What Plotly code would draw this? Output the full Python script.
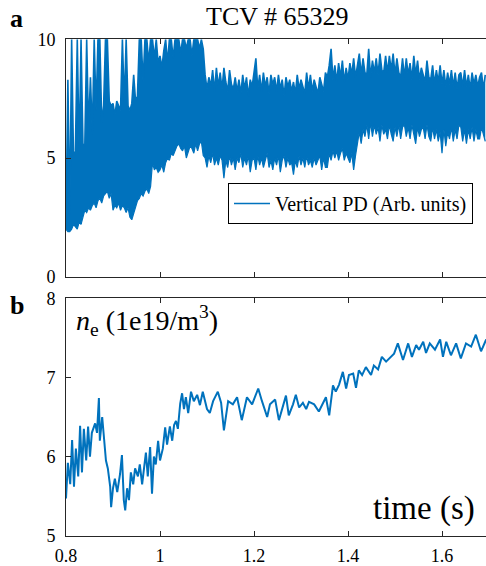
import plotly.graph_objects as go

# ---- Panel a: vertical photodiode signal (arb. units) ----
# Fast fluctuations drawn as their lower / upper excursion per 4 ms sample.
pd_t0 = 0.800
pd_dt = 0.004
pd_lower = [
    2.0, 1.9, 1.9, 2.0, 2.2, 2.1, 2.0, 2.3, 2.2, 2.5,
    2.8, 2.7, 2.9, 2.8, 3.0, 3.1, 2.9, 3.2, 3.3, 3.1,
    3.4, 3.5, 3.6, 3.3, 3.5, 2.8, 3.0, 2.9, 3.1, 2.8,
    3.0, 2.9, 2.7, 2.9, 2.5, 2.4, 2.7, 3.0, 3.2, 3.3,
    3.5, 3.4, 3.6, 3.7, 3.5, 3.8, 4.8, 4.5, 4.6, 4.4,
    4.5, 4.7, 4.4, 4.8, 5.0, 4.9, 5.2, 5.1, 5.3, 5.5,
    5.6, 5.4, 5.3, 5.5, 5.0, 5.3, 5.5, 5.4, 5.2, 5.6,
    5.3, 5.6, 5.7, 5.1, 5.0, 4.6, 5.1, 4.8, 5.2, 4.7,
    5.0, 4.7, 5.1, 4.9, 4.15, 4.9, 4.6, 5.1, 4.7, 5.0,
    4.5, 5.0, 4.8, 5.2, 4.6, 5.0, 4.7, 5.1, 4.4, 4.9,
    5.0, 4.5, 5.1, 4.7, 5.0, 4.6, 4.9, 5.2, 4.6, 4.9,
    4.5, 5.0, 4.7, 5.1, 4.4, 4.9, 5.1, 4.6, 5.0, 4.7,
    4.8, 4.3, 4.9, 4.6, 5.1, 4.7, 5.0, 4.6, 5.1, 4.7,
    4.9, 4.6, 5.0, 4.7, 4.9, 5.1, 4.5, 5.0, 4.6, 4.6,
    5.2, 4.9, 5.3, 5.0, 5.3, 4.9, 5.2, 5.4, 4.9, 5.2,
    5.0, 4.8, 5.2, 4.5, 5.1, 5.6, 6.1, 5.6, 6.2, 5.9,
    6.4, 5.8, 6.5, 5.9, 6.4, 6.0, 6.3, 5.7, 6.4, 6.0,
    6.2, 5.8, 6.4, 6.0, 5.7, 6.3, 5.9, 6.4, 5.8, 6.3,
    6.4, 5.9, 6.3, 5.8, 6.4, 6.0, 5.6, 6.3, 5.9, 6.2,
    6.3, 5.8, 6.4, 5.9, 5.7, 6.3, 5.8, 6.2, 5.7, 6.1,
    5.2, 6.2, 5.5, 6.1, 5.8, 6.3, 5.7, 6.2, 5.8, 6.4,
    6.3, 5.7, 6.2, 5.6, 6.2, 5.8, 6.3, 5.7, 6.2, 5.8,
    5.8, 6.3, 6.0, 5.7,
]
pd_upper = [
    2.3, 8.3, 2.6, 10, 5.0, 5.3, 10, 5.2, 10, 5.6,
    5.5, 10, 6.2, 8.4, 6.0, 10, 7.0, 10, 10, 6.5,
    7.2, 10, 10, 7.4, 7.2, 7.3, 6.8, 7.4, 7.2, 7.0,
    10, 7.3, 10, 7.2, 7.0, 7.3, 8.5, 7.4, 7.6, 10,
    10, 8.2, 10, 10, 9.0, 10, 10, 9.2, 10, 9.0,
    9.3, 8.8, 9.5, 10, 9.0, 10, 10, 9.2, 10, 10,
    10, 9.4, 10, 10, 9.6, 10, 10, 9.3, 10, 10,
    10, 9.6, 10, 9.6, 8.5, 7.9, 8.4, 8.0, 8.7, 7.8,
    8.8, 8.0, 8.6, 7.9, 8.8, 8.2, 7.8, 8.7, 8.1, 7.9,
    8.4, 7.8, 8.3, 7.7, 8.5, 7.9, 8.4, 7.6, 8.3, 8.0,
    8.6, 9.2, 7.9, 8.5, 7.8, 8.6, 8.0, 8.4, 7.7, 8.5,
    8.1, 8.4, 7.8, 8.5, 7.9, 8.3, 7.6, 8.4, 8.0, 8.3,
    7.8, 8.2, 7.7, 8.5, 7.9, 8.3, 8.0, 7.7, 8.6, 7.9,
    8.5, 7.8, 8.3, 8.0, 7.7, 8.4, 8.1, 7.8, 8.6, 8.4,
    8.9, 9.6, 8.3, 8.9, 8.2, 9.0, 8.4, 9.1, 8.2, 8.8,
    8.3, 9.0, 8.5, 9.2, 8.4, 8.9, 9.4, 8.5, 9.2, 8.6,
    8.5, 9.6, 8.4, 9.1, 8.6, 9.2, 8.5, 9.4, 8.7, 8.6,
    9.3, 8.6, 9.3, 8.7, 9.4, 8.5, 9.2, 8.6, 8.4, 9.2,
    8.4, 9.2, 8.5, 9.0, 8.3, 9.3, 8.5, 9.1, 8.3, 8.8,
    8.5, 8.2, 9.1, 8.4, 8.3, 8.9, 8.1, 8.7, 8.2, 8.9,
    8.1, 8.7, 8.0, 8.6, 8.1, 8.7, 8.0, 8.6, 7.9, 8.5,
    8.6, 8.0, 8.7, 8.0, 8.5, 7.9, 8.6, 8.1, 8.5, 8.0,
    8.4, 8.6, 7.9, 8.5,
]
pd_time = [round(pd_t0 + pd_dt * i, 4) for i in range(len(pd_upper))]

# ---- Panel b: line-averaged electron density (1e19 m^-3) ----
ne_time = [
    0.800, 0.804, 0.809, 0.813, 0.817, 0.821, 0.826, 0.830, 0.834, 0.838,
    0.843, 0.847, 0.851, 0.855, 0.862, 0.866, 0.870, 0.872, 0.877, 0.881,
    0.885, 0.889, 0.894, 0.896, 0.900, 0.904, 0.909, 0.915, 0.919, 0.923,
    0.926, 0.930, 0.934, 0.938, 0.943, 0.947, 0.953, 0.957, 0.962, 0.966,
    0.970, 0.974, 0.979, 0.983, 0.987, 0.991, 0.996, 1.000, 1.006, 1.011,
    1.015, 1.021, 1.026, 1.030, 1.034, 1.038, 1.043, 1.047, 1.051, 1.055,
    1.060, 1.066, 1.072, 1.079, 1.085, 1.091, 1.100, 1.106, 1.113, 1.123,
    1.130, 1.136, 1.145, 1.155, 1.164, 1.174, 1.185, 1.196, 1.209, 1.217,
    1.228, 1.234, 1.245, 1.253, 1.262, 1.268, 1.274, 1.283, 1.289, 1.296,
    1.304, 1.311, 1.317, 1.328, 1.338, 1.347, 1.353, 1.360, 1.368, 1.374,
    1.381, 1.389, 1.396, 1.402, 1.411, 1.417, 1.423, 1.430, 1.438, 1.449,
    1.455, 1.464, 1.472, 1.481, 1.489, 1.498, 1.506, 1.517, 1.528, 1.536,
    1.545, 1.551, 1.560, 1.566, 1.574, 1.585, 1.596, 1.602, 1.609, 1.619,
    1.630, 1.640, 1.651, 1.662, 1.672, 1.683, 1.694,
]
ne_values = [
    5.47, 5.92, 5.65, 6.21, 5.62, 6.10, 5.75, 6.39, 5.80, 6.35,
    5.95, 6.38, 6.00, 6.30, 6.42, 6.30, 6.74, 6.20, 6.50, 6.22,
    5.95, 5.85, 5.62, 5.36, 5.60, 5.72, 5.55, 5.78, 6.02, 5.45,
    5.32, 5.60, 5.45, 5.80, 5.65, 5.85, 5.75, 5.90, 5.65, 5.85,
    6.05, 5.75, 6.12, 5.53, 6.00, 5.90, 6.20, 5.95, 6.10, 6.37,
    6.15, 6.38, 6.20, 6.40, 6.45, 6.35, 6.67, 6.80, 6.60, 6.75,
    6.55, 6.82, 6.70, 6.78, 6.65, 6.82, 6.60, 6.55, 6.70, 6.82,
    6.68, 6.33, 6.70, 6.66, 6.75, 6.46, 6.75, 6.66, 6.86, 6.70,
    6.50, 6.66, 6.72, 6.46, 6.66, 6.77, 6.52, 6.66, 6.78, 6.62,
    6.68, 6.60, 6.69, 6.66, 6.57, 6.69, 6.75, 6.52, 6.90, 6.82,
    6.91, 7.07, 6.86, 7.03, 7.05, 6.87, 7.09, 7.03, 7.13, 7.03,
    7.15, 7.10, 7.26, 7.20, 7.25, 7.30, 7.43, 7.22, 7.43, 7.26,
    7.41, 7.35, 7.45, 7.31, 7.43, 7.35, 7.48, 7.26, 7.45, 7.28,
    7.43, 7.24, 7.43, 7.39, 7.54, 7.33, 7.48,
]

x_ticks = [0.8, 1.0, 1.2, 1.4, 1.6]
x_tick_labels = ["0.8", "1", "1.2", "1.4", "1.6"]
pd_ticks = [0, 5, 10]
ne_ticks = [5, 6, 7, 8]

LINE_BLUE = "#0072BD"
AXIS_GREY = "#262626"
SERIF = "Liberation Serif"
X_RANGE = [0.8, 1.6936]

fig = go.Figure()

# upper excursion (carries the legend entry), then the lower one filled up to it
fig.add_trace(go.Scatter(
    x=pd_time, y=pd_upper, mode="lines", name="Vertical PD (Arb. units)",
    line=dict(color=LINE_BLUE, width=1.6), xaxis="x", yaxis="y",
    legendgroup="pd",
))
fig.add_trace(go.Scatter(
    x=pd_time, y=pd_lower, mode="lines", showlegend=False,
    line=dict(color=LINE_BLUE, width=1.2), fill="tonexty",
    fillcolor=LINE_BLUE, xaxis="x", yaxis="y", legendgroup="pd",
))
fig.add_trace(go.Scatter(
    x=ne_time, y=ne_values, mode="lines", showlegend=False,
    line=dict(color=LINE_BLUE, width=2), xaxis="x2", yaxis="y2",
))

axis_common = dict(
    showgrid=False, zeroline=False, showline=True, linecolor=AXIS_GREY,
    linewidth=1, ticks="inside", ticklen=5, tickcolor=AXIS_GREY, tickwidth=1,
    tickfont=dict(family=SERIF, size=18, color="#000000"),
)
right_ticks = dict(
    side="right", showticklabels=False, showline=False, showgrid=False,
    zeroline=False, ticks="inside", ticklen=3, tickcolor=AXIS_GREY,
)

fig.update_layout(
    width=486, height=566,
    margin=dict(l=0, r=0, t=0, b=0, autoexpand=False),
    paper_bgcolor="white", plot_bgcolor="white",
    xaxis=dict(domain=[66 / 486, 1], range=X_RANGE, anchor="y",
               tickvals=x_ticks, showticklabels=False, mirror="ticks",
               **axis_common),
    yaxis=dict(domain=[1 - 276.7 / 566, 1 - 39.3 / 566], range=[0, 10],
               anchor="x", tickvals=pd_ticks, ticklabelstandoff=6,
               **axis_common),
    yaxis3=dict(overlaying="y", anchor="x", range=[0, 10],
                tickvals=pd_ticks, **right_ticks),
    xaxis2=dict(domain=[66 / 486, 1], range=X_RANGE, anchor="y2",
                tickvals=x_ticks, ticktext=x_tick_labels, mirror="ticks",
                ticklabelstandoff=4, **axis_common),
    yaxis2=dict(domain=[1 - 535.7 / 566, 1 - 298.3 / 566], range=[5, 8],
                anchor="x2", tickvals=ne_ticks, ticklabelstandoff=6,
                **axis_common),
    yaxis4=dict(overlaying="y2", anchor="x2", range=[5, 8],
                tickvals=ne_ticks, **right_ticks),
    legend=dict(
        x=473 / 486, xanchor="right", y=1 - 203.5 / 566, yanchor="middle",
        bgcolor="white", bordercolor="#000000", borderwidth=1,
        font=dict(family=SERIF, size=20, color="#000000"),
        tracegroupgap=0, itemwidth=36,
    ),
    showlegend=True,
)


def label(text, x_px, y_px, size, bold=False, xanchor="center"):
    return dict(
        text=f"<b>{text}</b>" if bold else text,
        x=x_px / 486, y=1 - y_px / 566, xref="paper", yref="paper",
        xanchor=xanchor, yanchor="middle", showarrow=False,
        font=dict(family=SERIF, size=size, color="#000000"),
    )


fig.update_layout(annotations=[
    label("TCV # 65329", 277, 17, 26),
    label("a", 16.5, 18.5, 26, bold=True),
    label("b", 16.5, 305, 26, bold=True),
    label("<i>n</i><sub>e</sub> (1e19/m<sup>3</sup>)", 74, 320, 28,
          xanchor="left"),
    label("time (s)", 477, 508, 33, xanchor="right"),
])

fig.write_html("out.html")
